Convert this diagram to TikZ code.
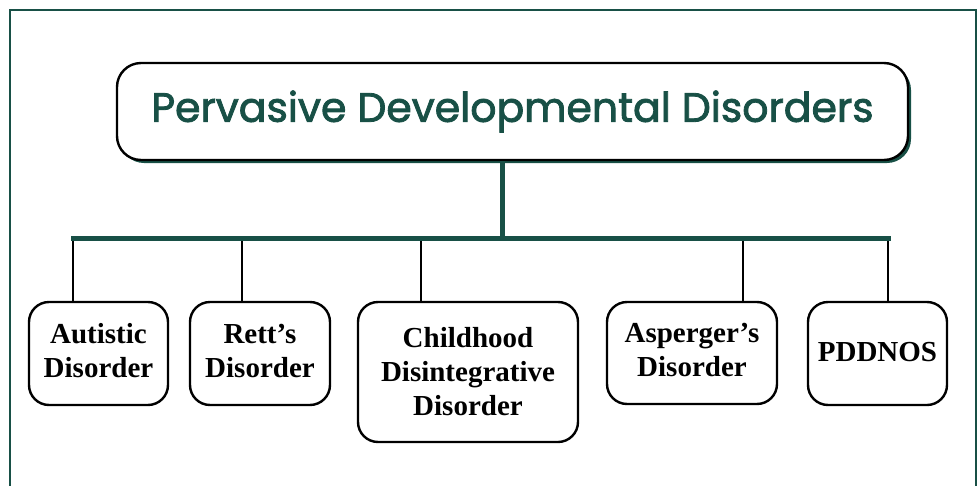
\documentclass[tikz,border=0pt]{standalone}
\usepackage{fontspec}
\setmainfont{Liberation Serif}
\newfontfamily\titlefont{Poppins}[AutoFakeBold=2]
\usetikzlibrary{shadows}
\definecolor{dgreen}{RGB}{24,80,70}
\newcommand{\twoline}[2]{\raisebox{4pt}{\begin{tabular}{@{}c@{}}#1\\#2\end{tabular}}}
\begin{document}
\begin{tikzpicture}[x=1pt,y=-1pt,
  leaf/.style={draw=black,line width=2.4pt,rounded corners=20pt,fill=white,
    inner sep=0pt,align=center,font=\fontsize{29}{34}\selectfont\bfseries},
  titlebox/.style={draw=black,line width=2.4pt,rounded corners=24pt,fill=white,
    inner sep=0pt,minimum width=791pt,minimum height=97pt,
    drop shadow={shadow xshift=3pt,shadow yshift=-3pt,fill=dgreen,opacity=1},
    font=\titlefont\bfseries\fontsize{41}{44}\selectfont,text=dgreen},
  bar/.style={draw=dgreen,line width=5pt},
  drop/.style={draw=black,line width=2.2pt}]
\useasboundingbox (0,0) rectangle (978,485);
\draw[dgreen,line width=2.2pt] (10,10) rectangle (976,520);
\node[titlebox] (title) at (512.5,111.5) {Pervasive Developmental Disorders};
\node[leaf,minimum width=139pt,minimum height=103pt] (aut) at (98.5,353.5) {\twoline{Autistic}{Disorder}};
\node[leaf,minimum width=140pt,minimum height=103pt] (rett) at (260,353.5) {\twoline{Rett’s}{Disorder}};
\node[leaf,minimum width=220pt,minimum height=140pt] (cdd) at (468,372) {Childhood\\Disintegrative\\Disorder};
\node[leaf,minimum width=170pt,minimum height=102pt] (asp) at (692,353) {\twoline{Asperger’s}{Disorder}};
\node[leaf,minimum width=139pt,minimum height=103pt] (pdd) at (877.5,353.5) {\raisebox{3pt}{PDDNOS}};
\coordinate (trunk) at (502.5,238);
\coordinate (barL) at (71,238);
\coordinate (barR) at (891,238);
\coordinate (d1) at (73,238);
\coordinate (d2) at (242,238);
\coordinate (d3) at (421,238);
\coordinate (d4) at (743,238);
\coordinate (d5) at (888,238);
\draw[drop] (d1) -- (d1 |- aut.north);
\draw[drop] (d2) -- (d2 |- rett.north);
\draw[drop] (d3) -- (d3 |- cdd.north);
\draw[drop] (d4) -- (d4 |- asp.north);
\draw[drop] (d5) -- (d5 |- pdd.north);
\draw[bar] (title.south -| trunk) -- (trunk);
\draw[bar] (barL) -- (barR);
\end{tikzpicture}
\end{document}
